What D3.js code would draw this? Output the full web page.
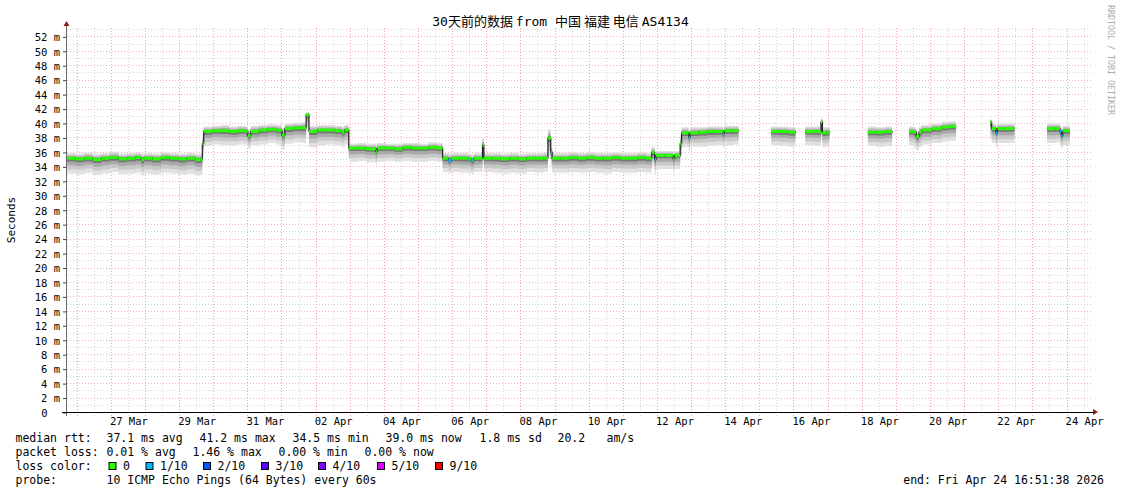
<!DOCTYPE html>
<html>
<head>
<meta charset="utf-8">
<script src="https://cdn.jsdelivr.net/npm/d3@7"></script>
<style>
  body { margin: 0; background: #fff; }
  svg { display: block; }
  text { font-family: "DejaVu Sans Mono", "Noto Sans CJK SC", monospace; fill: #000; }
</style>
</head>
<body>
<svg id="chart" width="1121" height="494"></svg>
<script>
const titleText = "30天前的数据 from 中国 福建 电信 AS4134";
const startTime = "2026-03-25T16:51:38Z";
const endTime = "2026-04-24T16:51:38Z";
const yTicks = [0, 2, 4, 6, 8, 10, 12, 14, 16, 18, 20, 22, 24, 26, 28, 30, 32, 34, 36, 38, 40, 42, 44, 46, 48, 50, 52];
const xTickDays = ["03-27 12", "03-29 12", "03-31 12", "04-02 12", "04-04 12", "04-06 12", "04-08 12",
  "04-10 12", "04-12 12", "04-14 12", "04-16 12", "04-18 12", "04-20 12", "04-22 12", "04-24 12"];

// samples (UTC, "MM-DD HH"), null = no data
const sampleTimes = [
  "03-25 17", "03-25 23", "03-26 05", "03-26 11", "03-26 17", "03-26 23", "03-27 05", "03-27 11", "03-27 17", "03-27 21",
  "03-27 23", "03-28 05", "03-28 11", "03-28 17", "03-28 23", "03-29 05", "03-29 11", "03-29 15", "03-29 16",
  "03-29 17", "03-29 23", "03-30 05", "03-30 11", "03-30 17", "03-30 23", "03-31 00", "03-31 02", "03-31 08", "03-31 14",
  "03-31 20", "04-01 00", "04-01 02", "04-01 08", "04-01 14", "04-01 17", "04-01 19", "04-02 01", "04-02 07", "04-02 13",
  "04-02 18", "04-02 20",
  "04-02 23", "04-03 05", "04-03 11", "04-03 18", "04-03 19", "04-04 01", "04-04 07", "04-04 13", "04-04 19", "04-05 01",
  "04-05 07", "04-05 13",
  "04-05 17", "04-05 21", "04-05 23", "04-06 05", "04-06 11", "04-06 13", "04-06 15", "04-06 21", "04-06 22", "04-07 04",
  "04-07 10", "04-07 16", "04-07 22", "04-08 04", "04-08 10", "04-08 16", "04-08 19", "04-08 21", "04-08 22", "04-09 04",
  "04-09 10", "04-09 16", "04-09 22", "04-10 04", "04-10 10", "04-10 16", "04-10 22", "04-11 04", "04-11 10", "04-11 16",
  "04-11 20", "04-11 22", "04-11 23", "04-12 05", "04-12 11", "04-12 12", "04-12 16",
  "04-12 17", "04-12 22", "04-12 23", "04-13 05", "04-13 11", "04-13 17", "04-13 22", "04-13 23", "04-14 05", "04-14 09",
  "04-14 10",
  "04-15 08", "04-15 14", "04-15 20", "04-16 01", "04-16 02",
  "04-16 08", "04-16 14", "04-16 19", "04-16 20", "04-16 23", "04-17 01", "04-17 02",
  "04-18 04", "04-18 10", "04-18 16", "04-18 21", "04-18 22",
  "04-19 09", "04-19 12", "04-19 14", "04-19 16", "04-19 18", "04-20 01", "04-20 08", "04-20 13", "04-20 18", "04-20 19",
  "04-21 18", "04-21 19", "04-21 22", "04-21 23", "04-22 05", "04-22 11", "04-22 12",
  "04-23 10", "04-23 16", "04-23 19", "04-23 20", "04-23 21", "04-24 02", "04-24 03"
];
const medianRtt = [
  35.2, 35.1, 35.2, 35.0, 35.2, 35.3, 35.1, 35.2, 35.3, 35.0,
  35.2, 35.1, 35.3, 35.2, 35.1, 35.2, 35.0, 35.1, 37.2,
  38.9, 39.0, 39.0, 38.9, 39.0, 38.9, 38.3, 38.9, 39.1, 39.2,
  39.1, 38.4, 39.3, 39.4, 39.4, 41.2, 38.9, 39.1, 39.1, 39.0,
  38.8, 39.1,
  36.6, 36.6, 36.5, 36.1, 36.6, 36.6, 36.5, 36.7, 36.6, 36.6,
  36.7, 36.6,
  35.2, 34.9, 35.2, 35.2, 35.1, 34.9, 35.2, 37.0, 35.2, 35.2,
  35.1, 35.2, 35.1, 35.2, 35.2, 35.2, 38.0, 36.0, 35.2, 35.2,
  35.3, 35.2, 35.3, 35.2, 35.2, 35.3, 35.2, 35.2, 35.3, 35.2,
  36.0, 35.0, 35.6, 35.6, 35.1, 35.6, 37.2,
  38.7, 38.1, 38.7, 38.8, 38.9, 38.9, 38.6, 39.0, 39.0, 39.0,
  null,
  38.9, 38.9, 38.8, 38.9, null,
  38.9, 38.9, 40.2, 38.7, 38.8, 38.8, null,
  38.8, 38.8, 38.9, 38.8, null,
  38.9, 38.8, 38.2, 38.8, 39.1, 39.3, 39.5, 39.6, 39.6, null,
  40.2, 39.3, 38.7, 39.3, 39.3, 39.3, null,
  39.3, 39.3, 38.9, 38.3, 39.0, 39.0, null
];
const pingLow = [
  33.1, 33.0, 33.2, 32.9, 33.1, 33.3, 33.0, 33.1, 33.2, 32.8,
  33.1, 32.9, 33.2, 33.1, 32.9, 33.1, 32.8, 32.9, 35.3,
  36.9, 37.1, 37.0, 37.0, 37.1, 36.9, 36.5, 37.0, 37.1, 37.3,
  37.1, 36.4, 37.2, 37.4, 37.3, 39.2, 36.7, 37.0, 37.1, 37.0,
  36.8, 37.1,
  34.7, 34.8, 34.6, 34.3, 34.7, 34.8, 34.7, 34.8, 34.7, 34.7,
  34.8, 34.7,
  33.3, 33.1, 33.3, 33.2, 33.2, 33.0, 33.3, 34.3, 33.3, 33.2,
  33.1, 33.2, 33.1, 33.3, 33.2, 33.3, 35.5, 34.1, 33.2, 33.2,
  33.3, 33.2, 33.3, 33.2, 33.1, 33.3, 33.2, 33.2, 33.3, 33.2,
  34.2, 33.1, 33.7, 33.7, 33.3, 33.7, 35.3,
  36.7, 36.2, 36.8, 36.8, 36.9, 37.0, 36.7, 37.0, 37.1, 37.1,
  null,
  37.0, 36.9, 36.8, 36.9, null,
  37.0, 36.9, 37.7, 36.7, 36.8, 36.8, null,
  36.9, 36.8, 36.9, 36.8, null,
  37.0, 36.7, 36.3, 36.8, 37.1, 37.3, 37.5, 37.6, 37.6, null,
  37.9, 37.3, 36.7, 37.3, 37.3, 37.3, null,
  37.3, 37.4, 37.0, 36.5, 37.0, 37.0, null
];
const pingHigh = [
  35.9, 35.8, 36.0, 35.8, 35.9, 36.1, 35.8, 35.9, 36.0, 35.8,
  35.9, 35.8, 36.0, 35.9, 35.8, 35.9, 35.8, 35.8, 38.4,
  39.6, 39.7, 39.8, 39.6, 39.7, 39.6, 39.2, 39.7, 39.8, 39.9,
  39.8, 39.3, 40.0, 40.1, 40.2, 41.6, 39.7, 39.8, 39.8, 39.7,
  39.6, 39.8,
  37.2, 37.3, 37.2, 36.9, 37.3, 37.2, 37.2, 37.3, 37.3, 37.2,
  37.4, 37.3,
  35.9, 35.8, 35.9, 35.9, 35.8, 35.7, 35.9, 38.0, 35.9, 35.9,
  35.8, 35.9, 35.8, 35.9, 35.9, 36.0, 39.2, 36.8, 35.9, 35.9,
  36.0, 35.9, 36.0, 35.9, 35.9, 36.0, 35.9, 35.9, 36.0, 35.9,
  36.8, 35.8, 36.2, 36.2, 35.9, 36.2, 38.4,
  39.5, 39.0, 39.5, 39.5, 39.6, 39.6, 39.4, 39.7, 39.7, 39.7,
  null,
  39.6, 39.6, 39.5, 39.6, null,
  39.6, 39.6, 40.8, 39.5, 39.5, 39.5, null,
  39.6, 39.5, 39.6, 39.5, null,
  39.6, 39.5, 39.0, 39.6, 39.8, 40.0, 40.2, 40.3, 40.3, null,
  40.6, 40.0, 39.6, 40.0, 40.0, 40.0, null,
  40.0, 40.0, 39.7, 39.2, 39.7, 39.7, null
];
const lossTenths = [
  0, 0, 0, 0, 0, 0, 0, 0, 0, 0,
  0, 0, 0, 0, 0, 0, 0, 0, 0,
  0, 0, 0, 0, 0, 0, 0, 0, 0, 0,
  0, 0, 0, 0, 0, 0, 0, 0, 0, 0,
  0, 0,
  0, 0, 0, 0, 0, 0, 0, 0, 0, 0,
  0, 0,
  0, 1, 0, 0, 0, 1, 0, 0, 0, 0,
  0, 0, 0, 0, 0, 0, 0, 1, 0, 0,
  0, 0, 0, 0, 0, 0, 0, 0, 0, 0,
  0, 1, 0, 0, 0, 0, 0,
  0, 1, 0, 0, 0, 0, 1, 0, 0, 0,
  0,
  0, 0, 0, 0, 0,
  0, 0, 0, 0, 0, 0, 0,
  0, 0, 0, 0, 0,
  0, 0, 0, 0, 0, 0, 0, 0, 0, 0,
  0, 0, 1, 0, 0, 0, 0,
  0, 0, 1, 1, 0, 0, 0
];

// legend
const lossSteps = [0, 1, 2, 3, 4, 5, 9];
const lossLabels = ["0", "1/10", "2/10", "3/10", "4/10", "5/10", "9/10"];
const lossColors = ["#26ff00", "#00b8ff", "#0059ff", "#5e00ff", "#7e00ff", "#dd00ff", "#ff0000"];
const rttStats = ["37.1 ms avg", "41.2 ms max", "34.5 ms min", "39.0 ms now", "1.8 ms sd", "20.2", "am/s"];
const lossStats = ["0.01 % avg", "1.46 % max", "0.00 % min", "0.00 % now"];
const probeText = "10 ICMP Echo Pings (64 Bytes) every 60s";
const endText = "end: Fri Apr 24 16:51:38 2026";

const parseT = d3.utcParse("%Y-%m-%d %H");
const rows = sampleTimes.map((s, i) => ({
  t: parseT("2026-" + s),
  med: medianRtt[i],
  lo: pingLow[i],
  hi: pingHigh[i],
  loss: lossTenths[i]
}));

const svg = d3.select('#chart');
const plotL = 67, plotR = 1091, plotB = 412.5, plotT = 26;

const x = d3.scaleUtc()
  .domain([new Date(startTime), new Date(endTime)])
  .range([plotL, plotR]);
const y = d3.scaleLinear()
  .domain([0, 53.5])
  .range([plotB, plotT]);

// grid: minor grey, major (labelled values, midnights) red
const grid = svg.append('g').attr('shape-rendering', 'crispEdges')
d3.range(1, 54).filter(v => v % 2).forEach(v => {
  grid.append('line').attr('x1', plotL).attr('x2', plotR).attr('y1', y(v)).attr('y2', y(v))
    .attr('stroke', '#d6d6d6').attr('stroke-dasharray', '1,2')
})
const halfDays = d3.utcHour.every(12).range(x.domain()[0], x.domain()[1])
halfDays.filter(d => d.getUTCHours() !== 0).forEach(d => {
  grid.append('line').attr('x1', x(d)).attr('x2', x(d)).attr('y1', plotB + 3).attr('y2', plotT)
    .attr('stroke', '#d6d6d6').attr('stroke-dasharray', '1,2')
})
yTicks.filter(v => v > 0).forEach(v => {
  grid.append('line').attr('x1', plotL).attr('x2', plotR).attr('y1', y(v)).attr('y2', y(v))
    .attr('stroke', '#f5b4b4').attr('stroke-dasharray', '1,2')
})
halfDays.filter(d => d.getUTCHours() === 0).forEach(d => {
  grid.append('line').attr('x1', x(d)).attr('x2', x(d)).attr('y1', plotB + 3).attr('y2', plotT)
    .attr('stroke', '#f4a0a0').attr('stroke-dasharray', '1,2')
})

// smoke
const plot = svg.append('g')
const defined = d => d.med != null
const shades = [[1, '#e0e0e0'], [0.72, '#c8c8c8'], [0.46, '#a9a9a9'], [0.22, '#767676']]
shades.forEach(([f, c]) => {
  const area = d3.area().defined(defined).curve(d3.curveStepAfter)
    .x(d => x(d.t))
    .y0(d => y(d.med + (d.lo - d.med) * f))
    .y1(d => y(d.med + (d.hi - d.med) * f))
  plot.append('path').datum(rows).attr('d', area).attr('fill', c)
})

// median line
const line = d3.line().defined(defined).curve(d3.curveStepAfter)
  .x(d => x(d.t)).y(d => y(d.med))
plot.append('path').datum(rows).attr('d', line)
  .attr('fill', 'none').attr('stroke', '#202020').attr('stroke-width', 1.2)

// median coloured by loss
const lossColor = v => {
  let k = 0
  lossSteps.forEach((s, i) => { if (v >= s) k = i })
  return lossColors[k]
}
const steps = []
rows.forEach((d, i) => {
  if (defined(d) && rows[i + 1] && defined(rows[i + 1])) steps.push({ ...d, next: rows[i + 1].t })
})
plot.selectAll('rect.med')
  .data(steps)
  .enter()
  .append('rect')
  .attr('class', 'med')
  .attr('x', d => x(d.t))
  .attr('width', d => x(d.next) - x(d.t))
  .attr('y', d => y(d.med) - 1.5)
  .attr('height', 3)
  .attr('fill', d => lossColor(d.loss))

// axes
const yAxis = d3.axisLeft(y)
  .tickValues(yTicks)
  .tickSize(4)
  .tickPadding(3)
  .tickFormat(d => d === 0 ? '0' : d + ' m')
svg.append('g')
  .attr('transform', `translate(${plotL}, 0)`)
  .call(yAxis)
  .attr('font-family', null)
  .attr('font-size', 10.5)
  .attr('color', '#444')
  .call(g => g.select('.domain').remove())
  .call(g => g.selectAll('.tick text').attr('fill', '#000').attr('dy', '0.36em'))
  .call(g => g.selectAll('.tick text').filter(d => d === 0).attr('x', -19.5))

const xAxis = d3.axisBottom(x)
  .tickValues(xTickDays.map(s => parseT("2026-" + s)))
  .tickSize(0)
  .tickPadding(5)
  .tickFormat(d3.utcFormat('%d %b'))
svg.append('g')
  .attr('transform', `translate(0, ${plotB})`)
  .call(xAxis)
  .attr('font-family', null)
  .attr('font-size', 10.5)
  .call(g => g.select('.domain').remove())
  .call(g => g.selectAll('.tick text').attr('fill', '#000'))

svg.append('line').attr('x1', plotL - 0.5).attr('x2', plotL - 0.5).attr('y1', plotB + 3).attr('y2', plotT)
  .attr('stroke', '#666').attr('shape-rendering', 'crispEdges')
svg.append('line').attr('x1', plotL - 5).attr('x2', plotR + 2).attr('y1', plotB - 0.5).attr('y2', plotB - 0.5)
  .attr('stroke', '#000').attr('shape-rendering', 'crispEdges')
svg.append('path').attr('d', `M${plotR + 2},${plotB - 3.5}L${plotR + 7},${plotB - 0.5}L${plotR + 2},${plotB + 2.5}Z`)
  .attr('fill', '#8e1b1b')
svg.append('path').attr('d', `M${plotL - 3.5},${plotT}L${plotL - 0.5},${plotT - 5}L${plotL + 2.5},${plotT}Z`)
  .attr('fill', '#8e1b1b')

// title, runs of CJK keep their own (narrow) space
const title = svg.append('text')
  .attr('x', 560.5)
  .attr('y', 26)
  .attr('text-anchor', 'middle')
  .attr('font-size', 13)
titleText.match(/[\u4e00-\u9fff]+ ?|[^\u4e00-\u9fff]+/g).forEach(part => {
  title.append('tspan')
    .attr('font-family', /[\u4e00-\u9fff]/.test(part) ? 'Noto Sans CJK SC' : 'DejaVu Sans Mono')
    .attr('xml:space', 'preserve')
    .text(part)
})

svg.append('text')
  .attr('transform', 'translate(14.5, 220) rotate(-90)')
  .attr('text-anchor', 'middle')
  .attr('font-size', 11)
  .text('Seconds')

svg.append('text')
  .attr('transform', 'translate(1107.5, 5) rotate(90)')
  .attr('font-size', 8.3)
  .style('fill', '#ababab')
  .text('RRDTOOL / TOBI OETIKER')

// legend
const legend = svg.append('g').attr('font-size', 11.5)
const addText = (tx, ty, s, anchor) => legend.append('text')
  .attr('x', tx).attr('y', ty).attr('text-anchor', anchor || 'start').text(s)

addText(15.5, 442, 'median rtt:')
const rttX = [106.5, 199.5, 292.5, 385.5, 479.5, 557.5, 606.5]
rttStats.forEach((s, i) => addText(rttX[i], 442, s))

addText(15.5, 456, 'packet loss:')
const lossX = [106.5, 192.5, 278.5, 364.5]
lossStats.forEach((s, i) => addText(lossX[i], 456, s))

addText(15.5, 470, 'loss color:')
const boxX = [109, 146, 203.5, 261.5, 318.5, 377.5, 435.5]
lossLabels.forEach((s, i) => {
  legend.append('rect')
    .attr('x', boxX[i]).attr('y', 462.5).attr('width', 7).attr('height', 7)
    .attr('fill', lossColors[i]).attr('stroke', '#000')
  addText(boxX[i] + 14, 470, s)
})

addText(15.5, 484, 'probe:')
addText(106.5, 484, probeText)
addText(1104, 484, endText, 'end')
</script>
</body>
</html>
